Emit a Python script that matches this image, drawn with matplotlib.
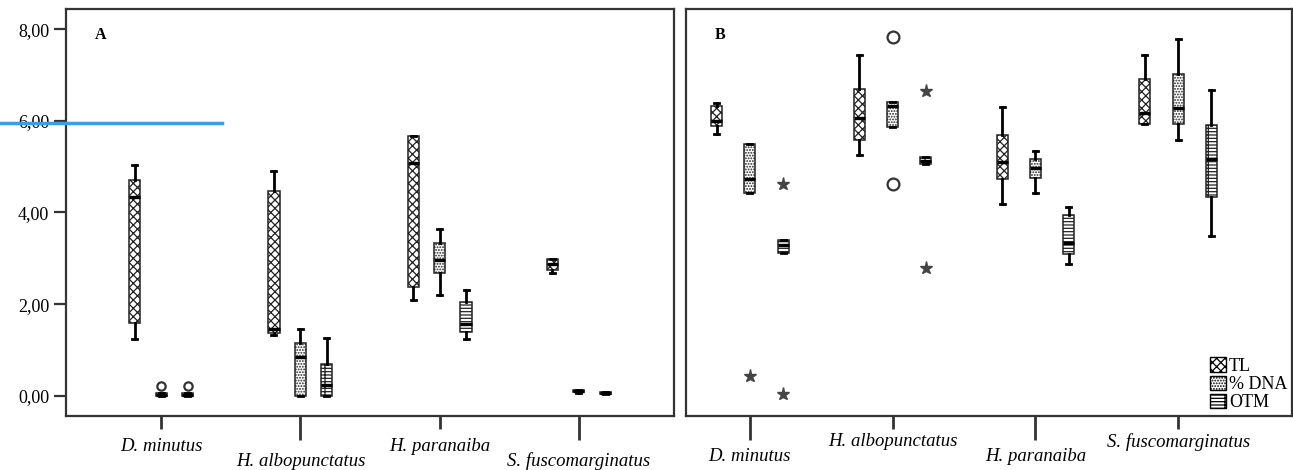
import numpy as np
import matplotlib.pyplot as plt
import matplotlib.transforms as mtransforms
from matplotlib.patches import Patch
from matplotlib.lines import Line2D

plt.rcParams['font.family'] = ['Liberation Serif', 'DejaVu Serif']
plt.rcParams['hatch.linewidth'] = 0.9

species = ['D. minutus', 'H. albopunctatus', 'H. paranaiba', 'S. fuscomarginatus']
variables = ['TL', '% DNA', 'OTM']
yticks = [0, 2, 4, 6, 8]
ytick_labels = ['0,00', '2,00', '4,00', '6,00', '8,00']

# (whislo, q1, med, q3, whishi) per species
a_tl = [(1.24, 1.58, 4.33, 4.71, 5.03),
        (1.33, 1.38, 1.45, 4.47, 4.90),
        (2.09, 2.38, 5.07, 5.68, 5.68),
        (2.68, 2.75, 2.88, 2.98, 2.98)]
a_dna = [(0.00, 0.00, 0.02, 0.07, 0.07),
         (0.00, 0.00, 0.85, 1.16, 1.45),
         (2.20, 2.67, 2.96, 3.33, 3.65),
         (0.07, 0.08, 0.10, 0.12, 0.12)]
a_otm = [(0.00, 0.00, 0.02, 0.07, 0.07),
         (0.00, 0.00, 0.24, 0.70, 1.26),
         (1.24, 1.40, 1.56, 2.05, 2.31),
         (0.04, 0.05, 0.07, 0.09, 0.09)]

b_tl = [(5.72, 5.88, 6.00, 6.32, 6.38),
        (5.25, 5.58, 6.07, 6.70, 7.44),
        (4.18, 4.74, 5.11, 5.69, 6.30),
        (5.93, 5.93, 6.18, 6.91, 7.44)]
b_dna = [(4.43, 4.43, 4.74, 5.49, 5.49),
         (5.87, 5.87, 6.32, 6.40, 6.40),
         (4.43, 4.76, 4.98, 5.16, 5.35),
         (5.58, 5.93, 6.28, 7.03, 7.78)]
b_otm = [(3.11, 3.11, 3.29, 3.41, 3.41),
         (5.05, 5.05, 5.13, 5.21, 5.21),
         (2.87, 3.09, 3.33, 3.94, 4.12),
         (3.49, 4.33, 5.16, 5.90, 6.67)]

# outliers: species index, variable index, value, marker
a_out_sp = [0, 0]
a_out_var = [1, 2]
a_out_val = [0.22, 0.22]
a_out_mk = ['o', 'o']

b_out_sp = [0, 0, 0, 1, 1, 1, 1]
b_out_var = [1, 2, 2, 1, 1, 2, 2]
b_out_val = [0.44, 4.62, 0.04, 7.83, 4.62, 6.65, 2.80]
b_out_mk = ['*', '*', '*', 'o', 'o', '*', '*']

hatches = ['xxxx', '......', '-----|']

fig = plt.figure(figsize=(12.93, 4.70), dpi=100)
axA = fig.add_axes([66 / 1293, 54 / 470, 608 / 1293, 407 / 470])
axB = fig.add_axes([686 / 1293, 54 / 470, 606 / 1293, 407 / 470])


def draw_panel(ax, groups, offset, width, out_sp, out_var, out_val, out_mk, circ_ms):
    pos = np.arange(1, len(species) + 1)
    for v, data in enumerate(groups):
        stats = []
        for s in data:
            stats.append(dict(whislo=s[0], q1=s[1], med=s[2], q3=s[3],
                              whishi=s[4], fliers=[]))
        bp = ax.bxp(stats, positions=pos + (v - 1) * offset, widths=width,
                    patch_artist=True, showfliers=False, capwidths=width * 0.45,
                    boxprops=dict(facecolor='white', edgecolor='#222222', linewidth=1.1),
                    medianprops=dict(color='black', linewidth=2.4),
                    whiskerprops=dict(color='black', linewidth=2.0),
                    capprops=dict(color='black', linewidth=2.0))
        for b in bp['boxes']:
            b.set_hatch(hatches[v])
    for s, v, val, mk in zip(out_sp, out_var, out_val, out_mk):
        x = s + 1 + (v - 1) * offset
        if mk == 'o':
            ax.plot(x, val, marker='o', ms=circ_ms, mfc='white', mec='#333333', mew=1.6)
        else:
            ax.plot(x, val, marker='*', ms=9.5, color='#444444')


def style_axis(ax, xlim, long_idx, pad):
    ax.set_xlim(*xlim)
    ax.set_ylim(-0.44, 8.44)
    for sp in ax.spines.values():
        sp.set_linewidth(1.6)
        sp.set_color('#333333')
    ax.set_xticks(range(1, len(species) + 1))
    ax.set_xticklabels(species, fontstyle='italic', fontsize=13.5)
    ax.tick_params(axis='x', direction='out', length=9.5, width=2, pad=pad,
                   color='#333333')
    shift = mtransforms.ScaledTranslation(0, -15 / 100, fig.dpi_scale_trans)
    for i, tk in enumerate(ax.xaxis.get_major_ticks()):
        if i in long_idx:
            tk.tick1line.set_markersize(17.5)
            tk.label1.set_transform(tk.label1.get_transform() + shift)


draw_panel(axA, [a_tl, a_dna, a_otm], 0.19, 0.08,
           a_out_sp, a_out_var, a_out_val, a_out_mk, 6)
draw_panel(axB, [b_tl, b_dna, b_otm], 0.233, 0.078,
           b_out_sp, b_out_var, b_out_val, b_out_mk, 8.5)

style_axis(axA, (0.316, 4.684), [1, 3], 6)
style_axis(axB, (0.553, 4.797), [0, 2], 3)

axA.set_yticks(yticks)
axA.set_yticklabels(ytick_labels, fontsize=13)
axA.tick_params(axis='y', direction='out', length=9, width=1.6, color='#333333', pad=3)
axB.set_yticks([])

axA.text(0.047, 0.955, 'A', transform=axA.transAxes, fontsize=11.5,
         fontweight='bold', va='top')
axB.text(0.047, 0.955, 'B', transform=axB.transAxes, fontsize=11.5,
         fontweight='bold', va='top')

handles = [Patch(facecolor='white', edgecolor='black', hatch=h) for h in hatches]
axB.legend(handles, variables, loc='lower right', frameon=False, fontsize=13,
           handlelength=0.9, handleheight=0.85, handletextpad=0.15,
           labelspacing=0.05, borderaxespad=0.1, borderpad=0.15)

# blue marker line in the scanned figure
fig.add_artist(Line2D([0, 222 / 1293], [1 - 123 / 470, 1 - 123 / 470],
                      transform=fig.transFigure, color='#3d9be9', lw=2.5))

fig.savefig('out.png', dpi=100)
